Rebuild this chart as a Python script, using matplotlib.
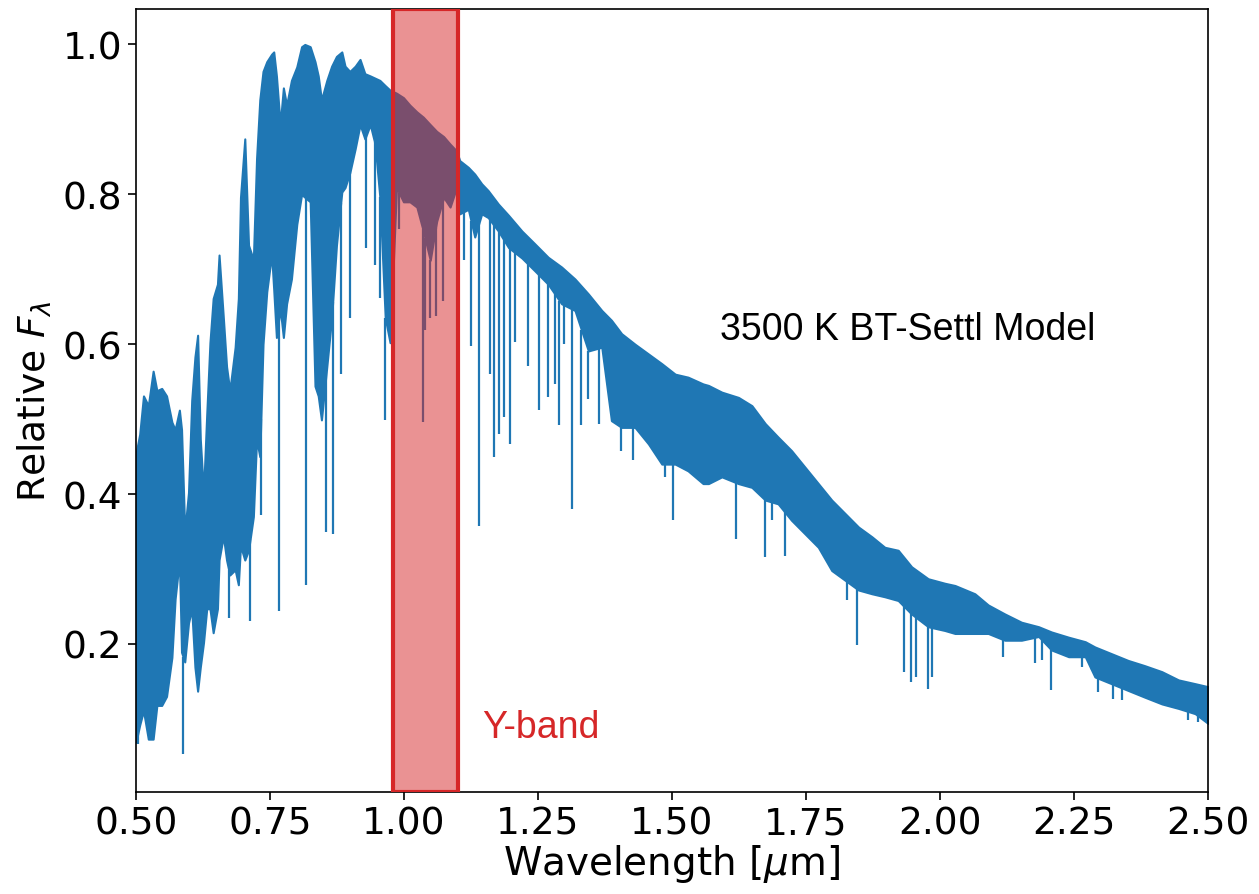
import numpy as np
import matplotlib
matplotlib.use("Agg")
import matplotlib.pyplot as plt

# spectrum envelope: wavelength [um], top and bottom of the dense band
wave = [0.500, 0.507, 0.514, 0.523, 0.532, 0.539, 0.548, 0.557, 0.567, 0.573,
        0.581, 0.585, 0.591, 0.598, 0.604, 0.610, 0.615, 0.620, 0.626, 0.632,
        0.638, 0.644, 0.652, 0.655, 0.663, 0.669, 0.675, 0.685, 0.691, 0.695,
        0.703, 0.710, 0.719, 0.725, 0.731, 0.737, 0.744, 0.753, 0.757, 0.762,
        0.769, 0.775, 0.781, 0.790, 0.800, 0.809, 0.815, 0.825, 0.834, 0.840,
        0.846, 0.856, 0.865, 0.874, 0.884, 0.890, 0.899, 0.909, 0.918, 0.927,
        0.937, 0.946, 0.955, 0.965, 0.974, 0.986, 0.999, 1.011, 1.024, 1.036,
        1.049, 1.061, 1.074, 1.086, 1.098, 1.104, 1.120, 1.132, 1.145, 1.157,
        1.176, 1.195, 1.220, 1.244, 1.269, 1.294, 1.319, 1.344, 1.369, 1.387,
        1.406, 1.431, 1.456, 1.481, 1.506, 1.530, 1.558, 1.568, 1.593, 1.624,
        1.649, 1.674, 1.698, 1.723, 1.748, 1.773, 1.798, 1.823, 1.848, 1.873,
        1.897, 1.922, 1.947, 1.978, 2.009, 2.028, 2.065, 2.090, 2.121, 2.152,
        2.184, 2.208, 2.240, 2.271, 2.289, 2.320, 2.351, 2.382, 2.414, 2.445,
        2.476, 2.500]
flux_top = [0.454, 0.480, 0.531, 0.518, 0.564, 0.538, 0.541, 0.531, 0.496, 0.486,
            0.512, 0.486, 0.350, 0.402, 0.525, 0.583, 0.612, 0.473, 0.402, 0.506,
            0.602, 0.661, 0.680, 0.719, 0.635, 0.570, 0.538, 0.596, 0.661, 0.796,
            0.874, 0.732, 0.713, 0.848, 0.926, 0.964, 0.977, 0.987, 0.990, 0.958,
            0.893, 0.942, 0.919, 0.952, 0.970, 0.997, 1.000, 0.997, 0.977, 0.958,
            0.926, 0.952, 0.971, 0.984, 0.990, 0.971, 0.964, 0.971, 0.980, 0.961,
            0.958, 0.955, 0.952, 0.945, 0.939, 0.935, 0.929, 0.919, 0.910, 0.903,
            0.893, 0.884, 0.877, 0.867, 0.858, 0.845, 0.836, 0.827, 0.814, 0.805,
            0.787, 0.772, 0.751, 0.734, 0.716, 0.703, 0.687, 0.667, 0.645, 0.632,
            0.614, 0.600, 0.587, 0.574, 0.560, 0.556, 0.547, 0.545, 0.536, 0.529,
            0.518, 0.494, 0.476, 0.458, 0.436, 0.414, 0.392, 0.374, 0.356, 0.343,
            0.329, 0.325, 0.303, 0.287, 0.281, 0.278, 0.267, 0.252, 0.240, 0.229,
            0.223, 0.216, 0.209, 0.203, 0.196, 0.187, 0.178, 0.171, 0.163, 0.152,
            0.147, 0.143]
flux_bot = [0.069, 0.092, 0.111, 0.073, 0.073, 0.118, 0.118, 0.130, 0.182, 0.260,
            0.312, 0.189, 0.176, 0.228, 0.247, 0.169, 0.137, 0.169, 0.202, 0.247,
            0.247, 0.215, 0.247, 0.312, 0.344, 0.312, 0.292, 0.299, 0.279, 0.331,
            0.312, 0.325, 0.370, 0.473, 0.450, 0.600, 0.670, 0.720, 0.673, 0.609,
            0.648, 0.609, 0.654, 0.687, 0.760, 0.800, 0.796, 0.790, 0.544, 0.531,
            0.499, 0.570, 0.635, 0.732, 0.803, 0.809, 0.829, 0.861, 0.893, 0.874,
            0.893, 0.867, 0.796, 0.635, 0.602, 0.809, 0.790, 0.790, 0.783, 0.751,
            0.712, 0.764, 0.796, 0.783, 0.809, 0.774, 0.780, 0.743, 0.774, 0.769,
            0.751, 0.729, 0.715, 0.698, 0.680, 0.654, 0.645, 0.591, 0.596, 0.498,
            0.489, 0.489, 0.467, 0.440, 0.440, 0.431, 0.414, 0.414, 0.423, 0.414,
            0.409, 0.392, 0.387, 0.365, 0.347, 0.329, 0.298, 0.285, 0.272, 0.267,
            0.263, 0.258, 0.240, 0.223, 0.218, 0.214, 0.214, 0.214, 0.205, 0.205,
            0.210, 0.192, 0.183, 0.183, 0.156, 0.147, 0.138, 0.129, 0.120, 0.114,
            0.107, 0.094]

# deep absorption lines that stick out below the band: wavelength and minimum flux
line_wave = [0.504, 0.588, 0.673, 0.713, 0.733, 0.767, 0.818, 0.855, 0.867, 0.882,
             0.900, 0.929, 0.945, 0.955, 0.965, 0.991, 1.035, 1.039, 1.049, 1.059,
             1.072, 1.112, 1.125, 1.140, 1.160, 1.168, 1.177, 1.186, 1.198, 1.208,
             1.232, 1.252, 1.268, 1.282, 1.290, 1.298, 1.313, 1.331, 1.344, 1.364,
             1.404, 1.427, 1.487, 1.502, 1.619, 1.674, 1.687, 1.711, 1.827, 1.846,
             1.932, 1.946, 1.955, 1.978, 1.986, 2.117, 2.178, 2.191, 2.207, 2.264,
             2.283, 2.294, 2.323, 2.339, 2.462, 2.482]
line_min = [0.066, 0.053, 0.234, 0.231, 0.372, 0.244, 0.279, 0.350, 0.347, 0.560,
            0.635, 0.728, 0.706, 0.661, 0.499, 0.754, 0.496, 0.619, 0.635, 0.638,
            0.657, 0.712, 0.598, 0.358, 0.560, 0.449, 0.480, 0.503, 0.467, 0.603,
            0.571, 0.512, 0.529, 0.547, 0.492, 0.600, 0.380, 0.492, 0.527, 0.494,
            0.458, 0.445, 0.423, 0.365, 0.340, 0.316, 0.365, 0.318, 0.258, 0.198,
            0.163, 0.149, 0.156, 0.140, 0.156, 0.183, 0.174, 0.178, 0.138, 0.169,
            0.169, 0.136, 0.127, 0.125, 0.098, 0.096]

band_lo, band_hi = 0.98, 1.10

wave = np.array(wave)
flux_top = np.array(flux_top)
flux_bot = np.array(flux_bot)
line_top = np.interp(line_wave, wave, flux_bot)

fig = plt.figure(figsize=(12.59, 8.95), dpi=100)
ax = fig.add_axes([0.108, 0.114, 0.8515, 0.875])

ax.fill_between(wave, flux_bot, flux_top, color='C0', lw=1.5, edgecolor='C0')
ax.vlines(line_wave, line_min, line_top, color='C0', lw=1.6)

ax.axvspan(band_lo, band_hi, facecolor=(0.839, 0.153, 0.157, 0.5),
           edgecolor='C3', lw=3, zorder=3)

ax.text(1.59, 0.62, '3500 K BT-Settl Model', fontsize=27,
        family='Liberation Sans', va='center', ha='left')
ax.text(1.145, 0.089, 'Y-band', fontsize=27, color='C3',
        family='Liberation Sans', va='center', ha='left')

ax.set_xlim(0.5, 2.5)
ax.set_ylim(0.0025, 1.0475)
ax.set_xticks(np.arange(0.5, 2.51, 0.25))
ax.set_xticklabels(['%.2f' % t for t in np.arange(0.5, 2.51, 0.25)])
ax.set_yticks([0.2, 0.4, 0.6, 0.8, 1.0])
ax.set_yticklabels(['0.2', '0.4', '0.6', '0.8', '1.0'])
ax.tick_params(labelsize=27, length=6, width=1.2, pad=4)
for s in ax.spines.values():
    s.set_linewidth(1.2)

ax.set_xlabel(r'Wavelength [$\mu$m]', fontsize=28, labelpad=0)
ax.set_ylabel(r'Relative $F_\lambda$', fontsize=27, labelpad=6)

fig.savefig('out.png', dpi=100)
